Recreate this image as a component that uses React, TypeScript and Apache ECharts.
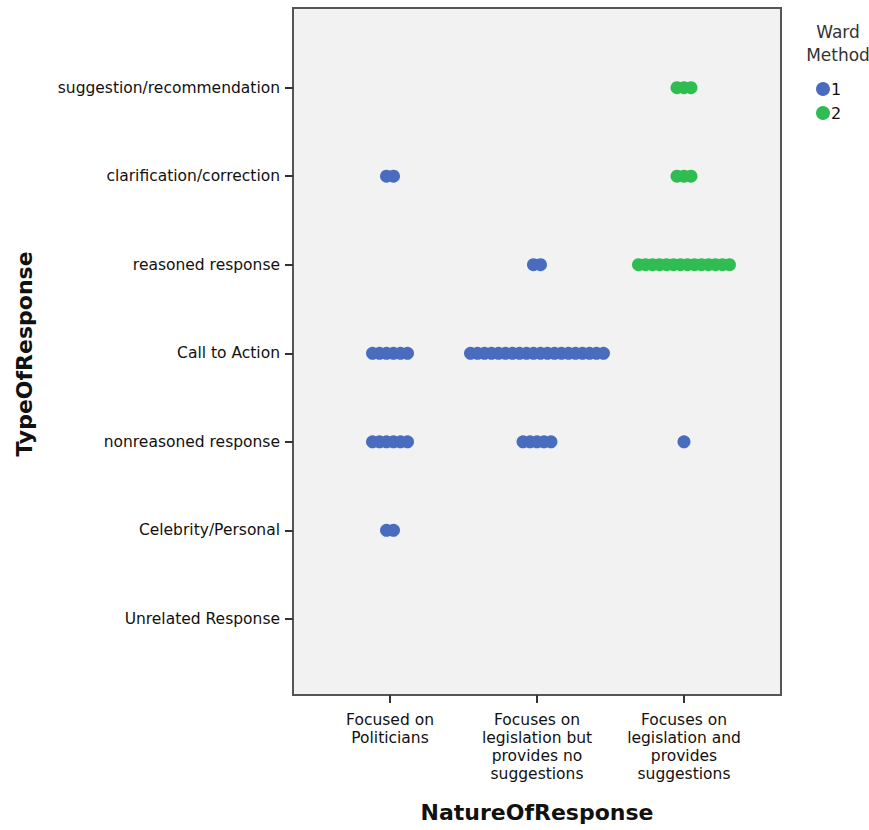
import React, { useEffect, useRef } from "react";
import * as echarts from "echarts";

const natureCategories = [
  "Focused on\nPoliticians",
  "Focuses on\nlegislation but\nprovides no\nsuggestions",
  "Focuses on\nlegislation and\nprovides\nsuggestions",
];
const typeCategories = [
  "Unrelated Response",
  "Celebrity/Personal",
  "nonreasoned response",
  "Call to Action",
  "reasoned response",
  "clarification/correction",
  "suggestion/recommendation",
];
// [natureIndex, typeIndex, count]
const ward1Counts: [number, number, number][] = [
  [0, 5, 2],
  [0, 3, 6],
  [0, 2, 6],
  [0, 1, 2],
  [1, 4, 2],
  [1, 3, 20],
  [1, 2, 5],
  [2, 2, 1],
];
const ward2Counts: [number, number, number][] = [
  [2, 6, 3],
  [2, 5, 3],
  [2, 4, 14],
];
const legendNames = ["1", "2"];

const DOT_STEP = 7 / 147; // horizontal offset between stacked dots, in category units

function expand(counts: [number, number, number][]) {
  const pts: number[][] = [];
  counts.forEach(([cx, cy, n]) => {
    for (let i = 0; i < n; i++) {
      pts.push([cx + (i - (n - 1) / 2) * DOT_STEP, cy]);
    }
  });
  return pts;
}

export default function App() {
  const ref = useRef<HTMLDivElement>(null);
  useEffect(() => {
    const chart = echarts.init(ref.current!, null, { renderer: "svg" });
    const font = "'DejaVu Sans', Verdana, sans-serif";
    chart.setOption({
      animation: false,
      backgroundColor: "#ffffff",
      grid: {
        left: 293,
        top: 8,
        width: 488,
        height: 687,
        show: true,
        backgroundColor: "#f2f2f2",
        borderColor: "#555555",
        borderWidth: 2,
      },
      xAxis: {
        type: "value",
        min: -0.66,
        max: 2.66,
        splitLine: { show: false },
        axisLine: { show: true, onZero: false, lineStyle: { color: "#555555", width: 2 } },
        axisTick: {
          show: true,
          length: 8,
          customValues: [0, 1, 2],
          lineStyle: { color: "#333333", width: 2 },
        },
        axisLabel: {
          customValues: [0, 1, 2],
          formatter: (v: number) => natureCategories[Math.round(v)] ?? "",
          fontFamily: font,
          fontSize: 15.5,
          color: "#111111",
          lineHeight: 18,
          margin: 16,
          align: "center",
        },
      },
      yAxis: {
        type: "value",
        min: -0.86,
        max: 6.9,
        splitLine: { show: false },
        axisLine: { show: true, onZero: false, lineStyle: { color: "#555555", width: 2 } },
        axisTick: {
          show: true,
          length: 8,
          customValues: [0, 1, 2, 3, 4, 5, 6],
          lineStyle: { color: "#333333", width: 2 },
        },
        axisLabel: {
          customValues: [0, 1, 2, 3, 4, 5, 6],
          formatter: (v: number) => typeCategories[Math.round(v)] ?? "",
          fontFamily: font,
          fontSize: 15.5,
          color: "#111111",
          margin: 13,
        },
      },
      legend: {
        orient: "vertical",
        left: 811,
        top: 76,
        itemWidth: 14,
        itemHeight: 14,
        itemGap: 8,
        icon: "circle",
        data: legendNames,
        textStyle: { fontFamily: font, fontSize: 16, color: "#111111", padding: [0, 0, 0, -4] },
      },
      graphic: [
        {
          type: "text",
          x: 838,
          y: 20,
          style: {
            text: "Ward\nMethod",
            font: `17px ${font}`,
            fill: "#333333",
            textAlign: "center",
            lineHeight: 23,
          },
        },
        {
          type: "text",
          x: 537,
          y: 812,
          style: {
            text: "NatureOfResponse",
            font: `bold 22px ${font}`,
            fill: "#111111",
            textAlign: "center",
            textVerticalAlign: "middle",
          },
        },
        {
          type: "text",
          x: 24,
          y: 354,
          rotation: Math.PI / 2,
          style: {
            text: "TypeOfResponse",
            font: `bold 22px ${font}`,
            fill: "#111111",
            textAlign: "center",
            textVerticalAlign: "middle",
          },
        },
      ],
      series: [
        {
          name: legendNames[0],
          type: "scatter",
          symbol: "circle",
          symbolSize: 13,
          itemStyle: { color: "#4a6cbf", opacity: 1 },
          data: expand(ward1Counts),
        },
        {
          name: legendNames[1],
          type: "scatter",
          symbol: "circle",
          symbolSize: 13,
          itemStyle: { color: "#2fbd52", opacity: 1 },
          data: expand(ward2Counts),
        },
      ],
    });
    return () => chart.dispose();
  }, []);
  return <div ref={ref} style={{ width: 869, height: 830, position: "absolute", left: 0, top: 0 }} />;
}
